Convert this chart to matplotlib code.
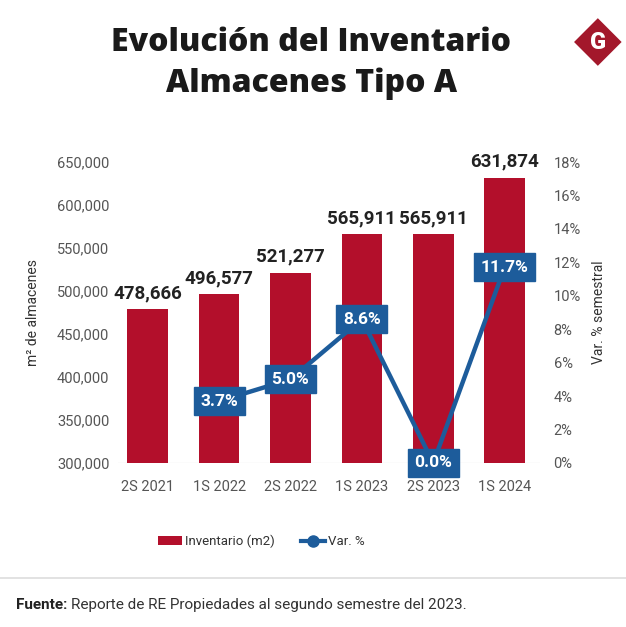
import matplotlib.pyplot as plt
from matplotlib.lines import Line2D
from matplotlib.patches import Patch, Polygon

# data
periodos = ["2S 2021", "1S 2022", "2S 2022", "1S 2023", "2S 2023", "1S 2024"]
inventario = [478666, 496577, 521277, 565911, 565911, 631874]
var_pct = [None, 3.7, 5.0, 8.6, 0.0, 11.7]

rojo = "#B30F2B"
azul = "#1D5C9B"
gris = "#555555"

plt.rcParams['font.family'] = ['Roboto', 'DejaVu Sans']

fig = plt.figure(figsize=(6.26, 6.27), dpi=100)
ax = fig.add_axes([0.188, 0.2616, 0.674, 0.48])

x = list(range(len(periodos)))
ax.bar(x, inventario, width=0.57, color=rojo, zorder=2)
ax.set_ylim(300000, 650000)
ax.set_xlim(-0.42, 5.49)
ax.set_yticks(range(300000, 650001, 50000))
ax.set_yticklabels([f"{v:,}" for v in range(300000, 650001, 50000)])
ax.set_xticks(x)
ax.set_xticklabels(periodos)
ax.tick_params(length=0, labelsize=10.5, colors=gris, pad=6)
ax.tick_params(axis='x', pad=12)
for s in ax.spines.values():
    s.set_visible(False)
ax.axhline(300000, color="#eeeeee", lw=1, zorder=1)
ax.set_ylabel("m² de almacenes", fontsize=10, color="#333333", labelpad=12)

for xi, v in zip(x, inventario):
    ax.annotate(f"{v:,}", (xi, v), xytext=(0, 5), textcoords="offset points",
                ha="center", va="bottom", fontsize=13.5, fontweight="bold",
                color="#222222")

ax2 = ax.twinx()
ax2.set_ylim(0, 18)
ax2.set_yticks(range(0, 19, 2))
ax2.set_yticklabels([f"{v}%" for v in range(0, 19, 2)])
ax2.tick_params(length=0, labelsize=10.5, colors=gris, pad=10)
for s in ax2.spines.values():
    s.set_visible(False)
ax2.set_ylabel("Var. % semestral", fontsize=10, color="#333333", labelpad=8)

xs = [xi for xi, v in zip(x, var_pct) if v is not None]
vs = [v for v in var_pct if v is not None]
ax2.plot(xs, vs, color=azul, lw=3.2, zorder=3)
for xi, v in zip(xs, vs):
    ax2.text(xi, v, f"{v:.1f}%", ha="center", va="center", fontsize=12.5,
             fontweight="bold", color="white", zorder=4,
             bbox=dict(boxstyle="square,pad=0.38", fc=azul, ec=azul))

# titulo
fig.text(0.497, 0.932, "Evolución del Inventario", ha="center", va="center",
         fontsize=23, fontweight="heavy", color="#1a1a1a",
         family=['Open Sans', 'Roboto'])
fig.text(0.497, 0.866, "Almacenes Tipo A", ha="center", va="center",
         fontsize=23, fontweight="heavy", color="#1a1a1a",
         family=['Open Sans', 'Roboto'])

# logo
cx, cy, r = 0.955, 0.933, 0.038
fig.patches.append(Polygon([(cx, cy + r), (cx + r, cy), (cx, cy - r), (cx - r, cy)],
                           closed=True, transform=fig.transFigure,
                           fc="#A3182B", ec="none"))
fig.text(cx, cy, "G", ha="center", va="center", fontsize=17,
         fontweight="heavy", color="white")

# leyenda
handles = [Patch(fc=rojo, ec="none"),
           Line2D([0], [0], color=azul, lw=3, marker="o", markersize=8)]
fig.legend(handles, ["Inventario (m2)", "Var. %"], loc="center",
           bbox_to_anchor=(0.418, 0.136), ncol=2, frameon=False,
           fontsize=9.5, handlelength=1.8, handletextpad=0.25, columnspacing=2.0,
           labelcolor="#333333")

# separador y fuente
fig.add_artist(Line2D([0, 1], [0.078, 0.078], color="#dddddd", lw=1.2))
t1 = fig.text(0.025, 0.035, "Fuente:", ha="left", va="center", fontsize=11,
              fontweight="bold", color="#222222")
fig.add_artist(plt.Annotation("Reporte de RE Propiedades al segundo semestre del 2023.",
                              xy=(1, 0.5), xycoords=t1, xytext=(3, 0),
                              textcoords="offset points", ha="left", va="center",
                              fontsize=11, color="#333333"))

fig.savefig("out.png", dpi=100, facecolor="white")
